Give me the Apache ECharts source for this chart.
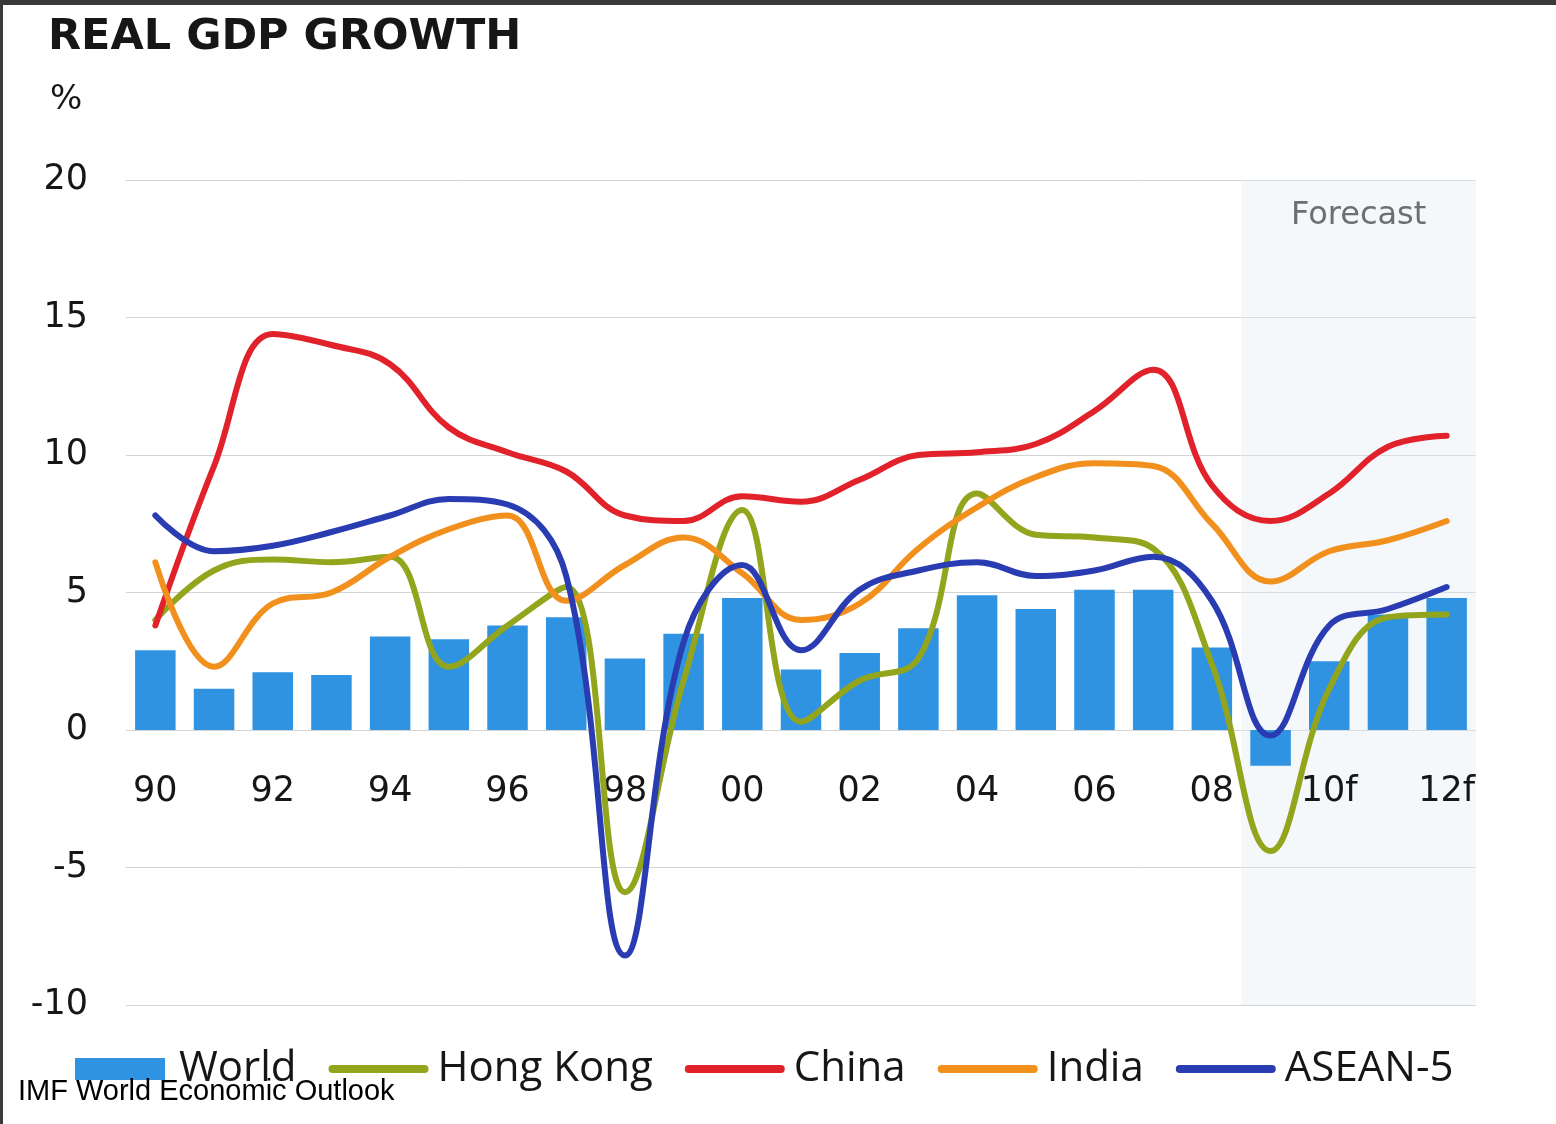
<!DOCTYPE html>
<html>
<head>
<meta charset="utf-8">
<script src="https://cdn.jsdelivr.net/npm/echarts@6/dist/echarts.min.js"></script>
<style>
  html, body { margin: 0; padding: 0; background: #ffffff; }
  #chart { position: absolute; left: 0; top: 0; width: 1556px; height: 1124px; }
  .edge { position: absolute; background: #3a3a3a; z-index: 5; }
</style>
</head>
<body>
<div id="chart"></div>
<div class="edge" style="left:0;top:0;width:1556px;height:5px;"></div>
<div class="edge" style="left:0;top:0;width:3px;height:1124px;"></div>
<script>
// Years 1990-2012, "f" marks IMF forecast years
const years = ['90','91','92','93','94','95','96','97','98','99','00','01','02','03','04','05','06','07','08','09','10f','11f','12f'];

// Real GDP growth, % per year
const world    = [2.9, 1.5, 2.1, 2.0, 3.4, 3.3, 3.8, 4.1, 2.6, 3.5, 4.8, 2.2, 2.8, 3.7, 4.9, 4.4, 5.1, 5.1, 3.0, -1.3, 2.5, 4.2, 4.8];
const hongKong = [4.0, 5.8, 6.2, 6.1, 6.3, 2.3, 3.8, 5.2, -5.9, 1.8, 8.0, 0.3, 1.8, 2.6, 8.6, 7.1, 7.0, 6.6, 2.4, -4.4, 1.5, 4.1, 4.2];
const china    = [3.8, 9.6, 14.4, 14.0, 13.3, 11.0, 10.1, 9.4, 7.8, 7.6, 8.5, 8.3, 9.1, 10.0, 10.1, 10.4, 11.6, 13.1, 8.9, 7.6, 8.6, 10.3, 10.7];
const india    = [6.1, 2.3, 4.6, 5.0, 6.3, 7.3, 7.8, 4.7, 6.0, 7.0, 5.7, 4.0, 4.6, 6.6, 8.1, 9.2, 9.7, 9.6, 7.5, 5.4, 6.5, 6.9, 7.6];
const asean5   = [7.8, 6.5, 6.7, 7.2, 7.8, 8.4, 8.2, 5.6, -8.2, 3.2, 6.0, 2.9, 5.1, 5.8, 6.1, 5.6, 5.8, 6.3, 4.7, -0.2, 3.8, 4.4, 5.2];

// Forecast band, in category-index units (from the 2008/2009 boundary to the right edge)
const forecastFrom = 18.5;
const forecastTo = 22.5;

const yTicks = { min: -10, max: 20, interval: 5 };

const axisFont = 'DejaVu Sans';
const textFont = 'Open Sans';

// Legend glyphs, drawn in a 100 x 22 box: a rounded stroke for lines, a block for the bars
const lineIcon = 'path://M0,0 L0.01,0 L0,0.01 Z M100,22 L99.99,22 L100,21.99 Z ' +
                 'M4,7 L96,7 A4,4 0 0 1 96,15 L4,15 A4,4 0 0 1 4,7 Z';
const barIcon  = 'path://M0,0 L0.01,0 L0,0.01 Z M100,22 L99.99,22 L100,21.99 Z ' +
                 'M5,0 L95,0 L95,22 L5,22 Z';

function lineSeries(name, data, color) {
  return {
    name: name,
    type: 'line',
    xAxisIndex: 0,
    yAxisIndex: 0,
    data: data,
    smooth: 0.4,
    symbol: 'none',
    z: 3,
    lineStyle: { color: color, width: 6, cap: 'round', join: 'round' },
    itemStyle: { color: color }
  };
}

const W = 1556, H = 1124;
const plotBox = { left: 126, right: 80, top: 180, bottom: 119, containLabel: false };

// The year axis sits on the zero line: lift it from the bottom edge by the share of the
// value range that lies below zero.
const plotHeight = H - plotBox.top - plotBox.bottom;
const zeroLift = plotHeight * (0 - yTicks.min) / (yTicks.max - yTicks.min);

const chart = echarts.init(document.getElementById('chart'), null, { renderer: 'canvas' });

chart.setOption({
  backgroundColor: '#ffffff',
  animation: false,
  title: [
    {
      text: 'REAL GDP GROWTH',
      left: 43, top: 11,
      textStyle: { fontFamily: axisFont, fontWeight: 'bold', fontSize: 43, color: '#161616' }
    },
    {
      text: '%',
      left: 45, top: 78,
      textStyle: { fontFamily: axisFont, fontWeight: 'normal', fontSize: 34, color: '#161616' }
    },
    {
      text: 'IMF World Economic Outlook',
      left: 13, top: 1072,
      textStyle: { fontFamily: 'Liberation Sans', fontWeight: 'normal', fontSize: 29, color: '#000000' }
    }
  ],
  grid: [
    Object.assign({}, plotBox),
    Object.assign({}, plotBox)
  ],
  legend: {
    left: 65, top: 1043,
    itemWidth: 100, itemHeight: 22,
    itemGap: 32,
    textStyle: { fontFamily: textFont, fontSize: 42, color: '#161616', padding: [0, 0, 0, 4] },
    data: [
      { name: 'World', icon: barIcon },
      { name: 'Hong Kong', icon: lineIcon },
      { name: 'China', icon: lineIcon },
      { name: 'India', icon: lineIcon },
      { name: 'ASEAN-5', icon: lineIcon }
    ]
  },
  xAxis: [
    {
      type: 'category',
      gridIndex: 0,
      data: years,
      boundaryGap: true,
      position: 'bottom',
      offset: -zeroLift,
      z: 1,
      axisLine: { show: false, onZero: false },
      axisTick: { show: false },
      axisLabel: {
        interval: 1,
        margin: 44,
        fontFamily: axisFont,
        fontSize: 35,
        color: '#161616'
      },
      splitLine: { show: false }
    },
    {
      type: 'value',
      gridIndex: 1,
      min: -0.5,
      max: 22.5,
      show: false
    }
  ],
  yAxis: [
    {
      type: 'value',
      gridIndex: 0,
      min: yTicks.min,
      max: yTicks.max,
      interval: yTicks.interval,
      z: 1,
      axisLine: { show: false },
      axisTick: { show: false },
      axisLabel: {
        margin: 38,
        fontFamily: axisFont,
        fontSize: 35,
        color: '#161616'
      },
      splitLine: { show: true, lineStyle: { color: '#d4d4d4', width: 1 } }
    },
    {
      type: 'value',
      gridIndex: 1,
      min: yTicks.min,
      max: yTicks.max,
      show: false
    }
  ],
  series: [
    {
      name: 'forecast-band',
      type: 'line',
      xAxisIndex: 1,
      yAxisIndex: 1,
      data: [],
      z: 0,
      silent: true,
      markArea: {
        silent: true,
        itemStyle: { color: 'rgba(228,236,243,0.38)' },
        label: {
          show: true,
          position: 'insideTop',
          distance: 20,
          formatter: '{b}',
          fontFamily: axisFont,
          fontSize: 32,
          color: '#6e6e6e'
        },
        data: [[{ name: 'Forecast', xAxis: forecastFrom }, { xAxis: forecastTo }]]
      }
    },
    {
      name: 'World',
      type: 'bar',
      xAxisIndex: 0,
      yAxisIndex: 0,
      data: world,
      barCategoryGap: '31%',
      z: 2,
      itemStyle: { color: '#2f93e2' }
    },
    lineSeries('Hong Kong', hongKong, '#92a51c'),
    lineSeries('China', china, '#e1222b'),
    lineSeries('India', india, '#f2901e'),
    lineSeries('ASEAN-5', asean5, '#2a3cb2')
  ]
});
</script>
</body>
</html>
